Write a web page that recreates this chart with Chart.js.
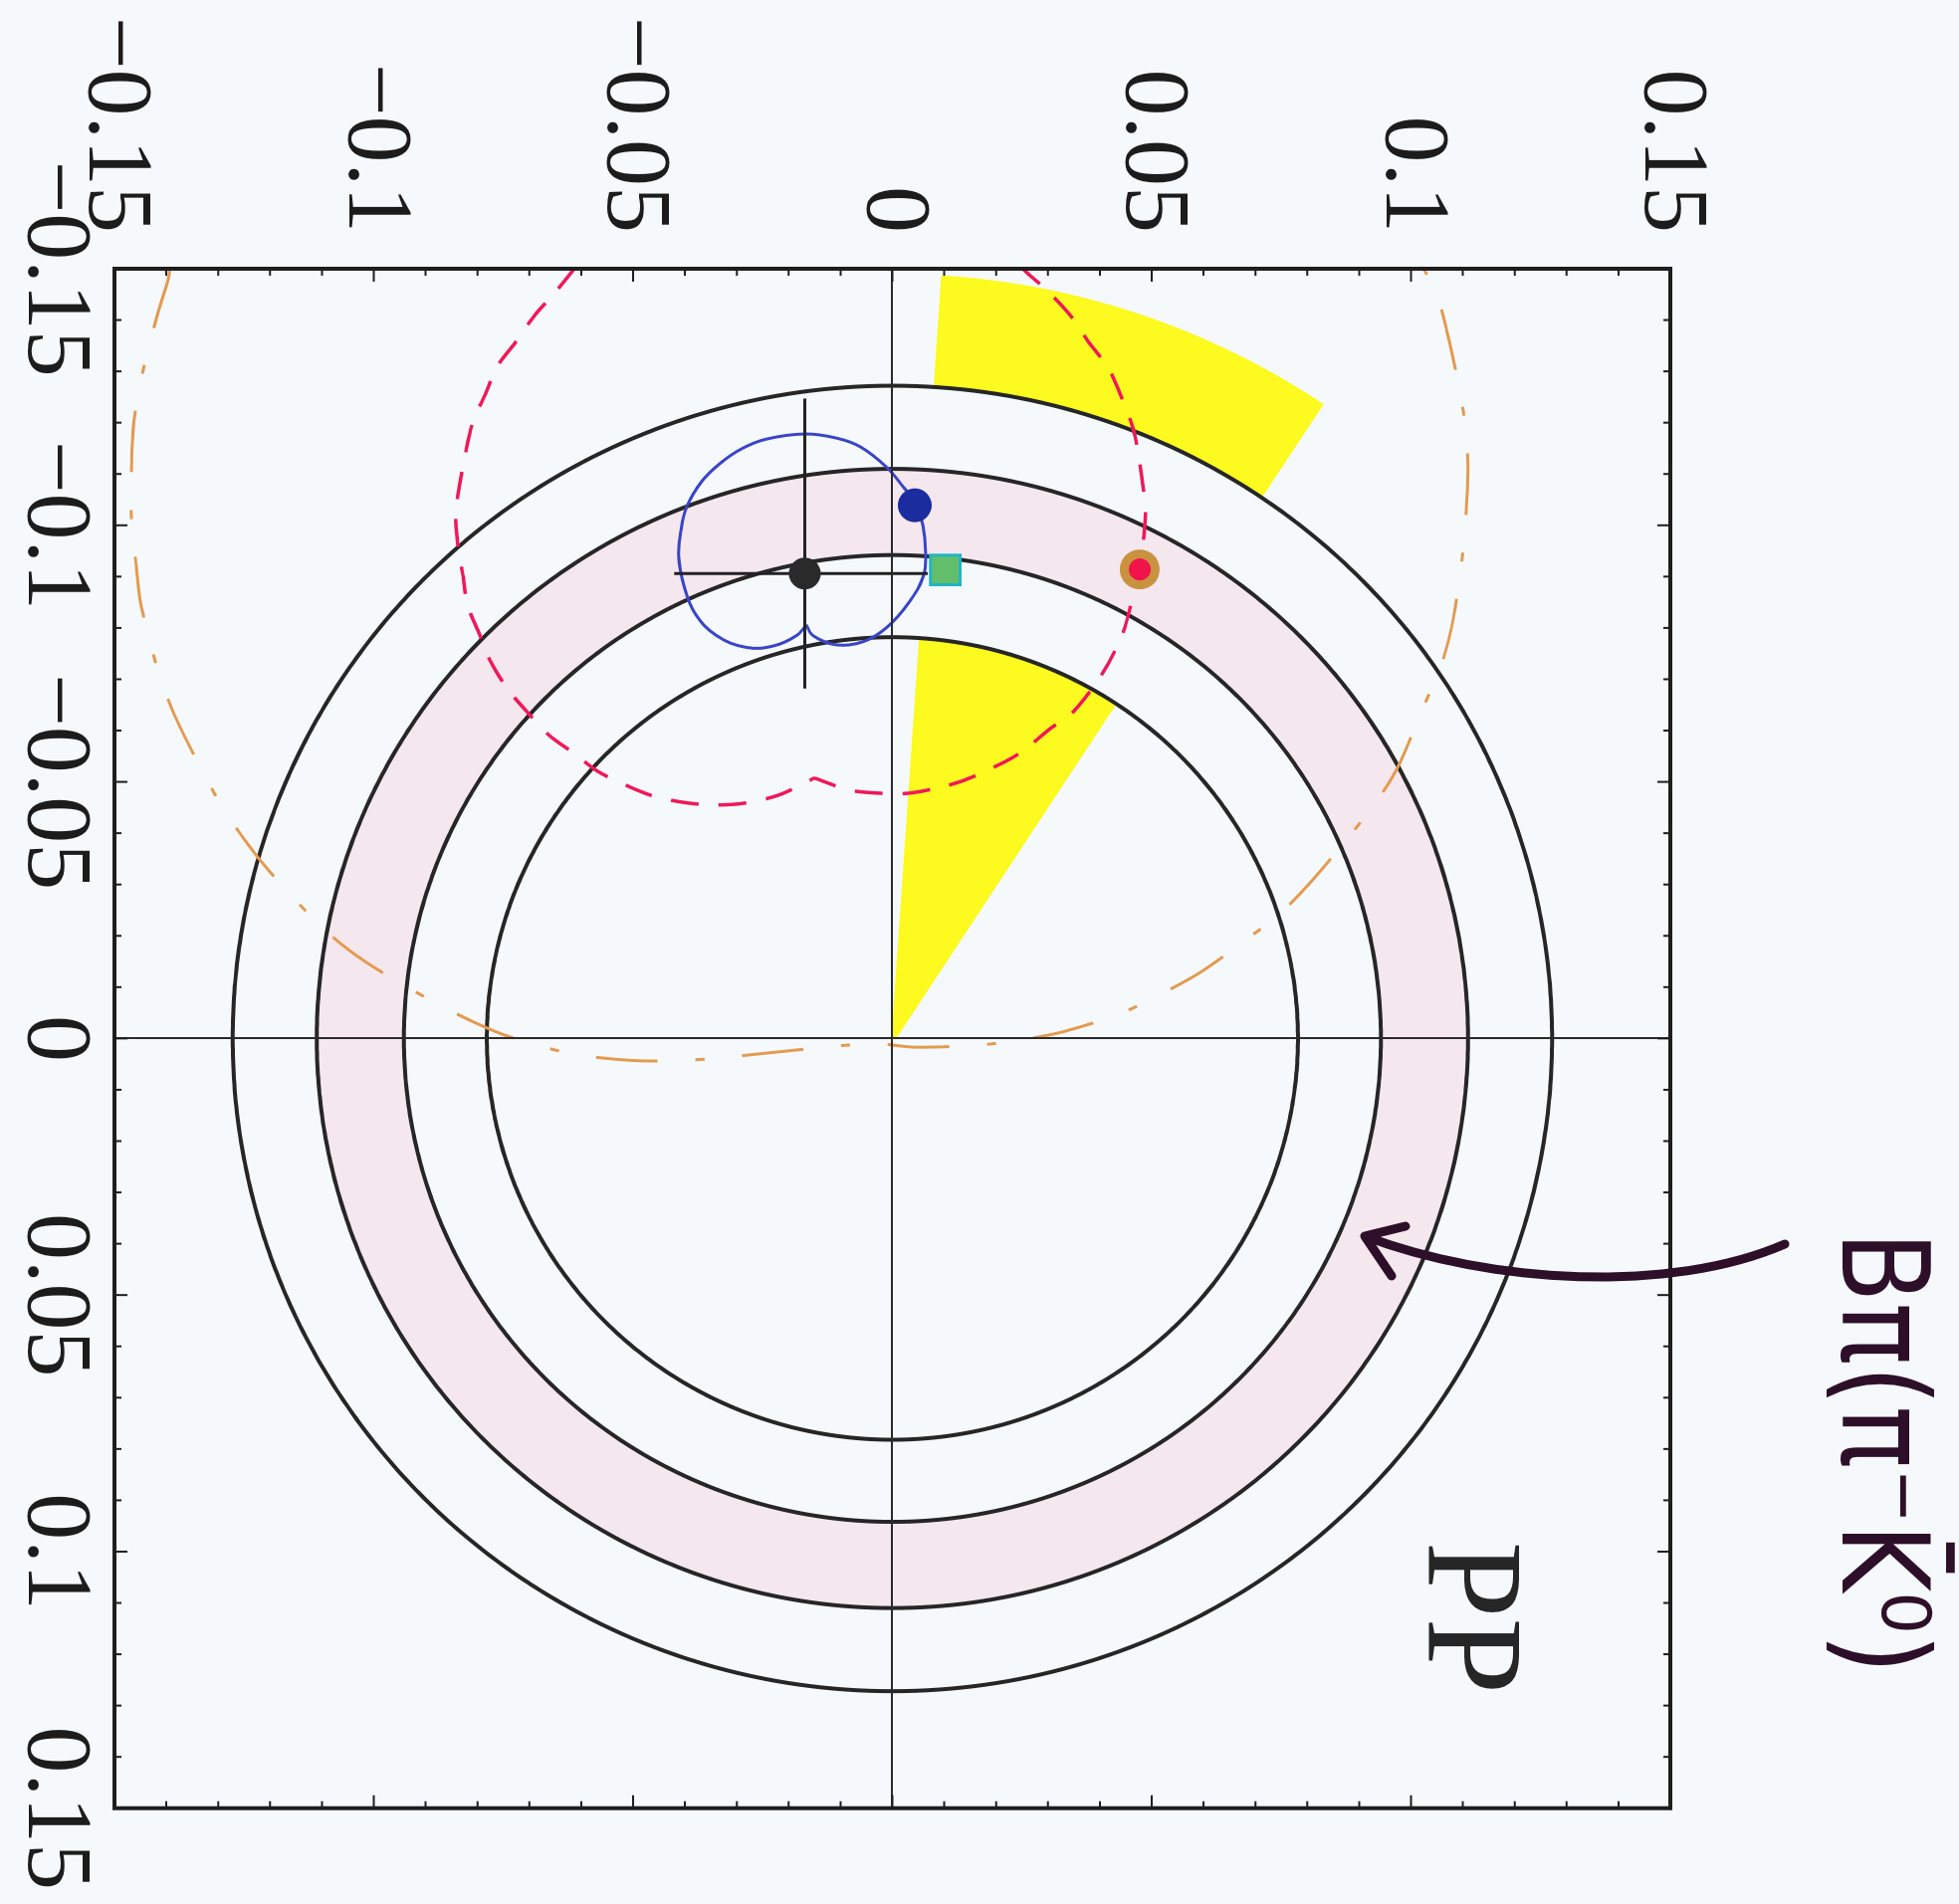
<!DOCTYPE html>
<html>
<head>
<meta charset="utf-8">
<script src="https://cdn.jsdelivr.net/npm/chart.js@4.4.1/dist/chart.umd.min.js"></script>
<style>
  html, body { margin: 0; padding: 0; overflow: hidden; background: #f5f9fc; }
  /* the scanned figure is turned a quarter turn clockwise */
  #turn { position: absolute; left: 0; top: 0; width: 1913px; height: 1968px;
          transform-origin: 0 0; transform: translate(1968px, 0) rotate(90deg); }
</style>
</head>
<body>
<div id="turn"><canvas id="pp" width="1913" height="1968"></canvas></div>
<script>
const tickValues = [-0.15, -0.1, -0.05, 0, 0.05, 0.1, 0.15];
const tickLabels = ['−0.15', '−0.1', '−0.05', '0', '0.05', '0.1', '0.15'];
const minorTicks = Array.from({ length: 31 }, (_, i) => -0.15 + i * 0.01);

// black circles and the shaded band between two of them
const ringRadii = [0.0782, 0.0942, 0.1110, 0.1272];
const bandRadii = [0.0942, 0.1110];
// yellow sectors (degrees, radii)
const wedgeAngles = [146, 176.4];
const wedgeInner = [0, 0.0782];
const wedgeOuter = [0.1272, 0.149];

// curves, [x, y]
const redCurve = [
  [-0.1504,-0.0610],[-0.1452,-0.0652],[-0.1409,-0.0690],[-0.1355,-0.0728],[-0.1311,-0.0761],
  [-0.1253,-0.0786],[-0.1201,-0.0809],[-0.1137,-0.0824],[-0.1082,-0.0834],[-0.1022,-0.0842],
  [-0.0960,-0.0838],[-0.0902,-0.0828],[-0.0844,-0.0819],[-0.0787,-0.0796],[-0.0735,-0.0775],
  [-0.0681,-0.0742],[-0.0636,-0.0704],[-0.0590,-0.0661],[-0.0555,-0.0613],[-0.0521,-0.0569],
  [-0.0494,-0.0515],[-0.0472,-0.0460],[-0.0459,-0.0396],[-0.0455,-0.0339],[-0.0459,-0.0282],
  [-0.0474,-0.0220],[-0.0501,-0.0162],[-0.0507,-0.0151],[-0.0501,-0.0133],[-0.0484,-0.0084],
  [-0.0478,-0.0026],[-0.0478,0.0032],[-0.0492,0.0103],[-0.0509,0.0153],[-0.0553,0.0241],
  [-0.0605,0.0306],[-0.0638,0.0350],[-0.0713,0.0406],[-0.0789,0.0444],[-0.0854,0.0462],
  [-0.0916,0.0477],[-0.1022,0.0488],[-0.1076,0.0483],[-0.1178,0.0467],[-0.1249,0.0442],
  [-0.1307,0.0416],[-0.1359,0.0377],[-0.1404,0.0347],[-0.1456,0.0300],[-0.1490,0.0262],
  [-0.1504,0.0247]
];
const blueCurve = [
  [-0.0806,-0.0166],[-0.0785,-0.0185],[-0.0765,-0.0229],[-0.0762,-0.0281],[-0.0785,-0.0339],
  [-0.0829,-0.0381],[-0.0883,-0.0402],[-0.0941,-0.0412],[-0.0989,-0.0408],[-0.1037,-0.0396],
  [-0.1085,-0.0368],[-0.1120,-0.0333],[-0.1149,-0.0291],[-0.1168,-0.0243],[-0.1178,-0.0168],
  [-0.1170,-0.0108],[-0.1153,-0.0062],[-0.1114,-0.0012],[-0.1076,0.0020],[-0.1041,0.0045],
  [-0.0999,0.0059],[-0.0950,0.0064],[-0.0902,0.0060],[-0.0850,0.0032],[-0.0800,-0.0012],
  [-0.0773,-0.0057],[-0.0767,-0.0108],[-0.0785,-0.0153],[-0.0806,-0.0166]
];
const orangeCurve = [
  [-0.1500,-0.1393],[-0.1481,-0.1396],[-0.1404,-0.1419],[-0.1288,-0.1448],[-0.1207,-0.1462],
  [-0.1120,-0.1467],[-0.1004,-0.1467],[-0.0922,-0.1458],[-0.0841,-0.1448],[-0.0723,-0.1418],
  [-0.0646,-0.1391],[-0.0571,-0.1356],[-0.0468,-0.1302],[-0.0397,-0.1256],[-0.0334,-0.1208],
  [-0.0243,-0.1126],[-0.0185,-0.1064],[-0.0137,-0.0997],[-0.0077,-0.0895],[-0.0039,-0.0822],
  [-0.0006,-0.0746],[0.0027,-0.0632],[0.0039,-0.0550],[0.0044,-0.0465],[0.0040,-0.0354],
  [0.0031,-0.0266],[0.0010,-0.0041],[0.0017,0.0043],[0.0013,0.0164],[0.0004,0.0241],
  [-0.0013,0.0329],[-0.0048,0.0438],[-0.0085,0.0515],[-0.0129,0.0594],[-0.0191,0.0680],
  [-0.0243,0.0747],[-0.0305,0.0807],[-0.0393,0.0880],[-0.0465,0.0936],[-0.0536,0.0978],
  [-0.0642,0.1022],[-0.0721,0.1056],[-0.0800,0.1078],[-0.0908,0.1095],[-0.0995,0.1104],
  [-0.1110,0.1110],[-0.1199,0.1104],[-0.1288,0.1089],[-0.1452,0.1050],[-0.1500,0.1024]
];

// markers
const pointBlack = [-0.0906, -0.0169];
const errX = [-0.1247, -0.0682];
const errY = [-0.0421, 0.0068];
const pointBlue = [-0.1039, 0.0043];
const pointSquare = [-0.0913, 0.0102];
const pointRed = [-0.0914, 0.0477];
const ppLabel = [0.1129, 0.1124];

const toXY = arr => arr.map(p => ({ x: p[0], y: p[1] }));
const arc = (r, a0, a1, n) => {
  const pts = [];
  for (let i = 0; i <= n; i++) {
    const a = (a0 + (a1 - a0) * i / n) * Math.PI / 180;
    pts.push({ x: r * Math.cos(a), y: r * Math.sin(a) });
  }
  return pts;
};
const span = (chart, a, b) => Math.abs(chart.scales.x.getPixelForValue(b) - chart.scales.x.getPixelForValue(a));

const lineBase = { showLine: true, pointRadius: 0, fill: false, clip: 0 };

const datasets = [
  { ...lineBase, data: [{ x: pointBlack[0], y: pointBlack[1] }], showLine: false,
    pointRadius: 16, pointBackgroundColor: '#2a2a2a', pointBorderWidth: 0, order: 1 },
  { ...lineBase, data: [{ x: pointBlue[0], y: pointBlue[1] }], showLine: false,
    pointRadius: 17, pointBackgroundColor: '#1b2c9e', pointBorderWidth: 0, order: 1 },
  { ...lineBase, data: [{ x: pointSquare[0], y: pointSquare[1] }], showLine: false, pointStyle: 'rect',
    pointRadius: 21, pointBackgroundColor: '#63be6c', pointBorderColor: '#1fb5c6', pointBorderWidth: 3, order: 1 },
  { ...lineBase, data: [{ x: pointRed[0], y: pointRed[1] }], showLine: false,
    pointRadius: 11, pointBackgroundColor: '#f2124c', pointBorderWidth: 0, order: 0 },
  { ...lineBase, data: [{ x: pointRed[0], y: pointRed[1] }], showLine: false,
    pointRadius: 20, pointBackgroundColor: '#c9923f', pointBorderWidth: 0, order: 1 },
  { ...lineBase, data: [{ x: errX[0], y: pointBlack[1] }, { x: errX[1], y: pointBlack[1] }],
    borderColor: '#222', borderWidth: 3, order: 2 },
  { ...lineBase, data: [{ x: pointBlack[0], y: errY[0] }, { x: pointBlack[0], y: errY[1] }],
    borderColor: '#222', borderWidth: 3, order: 2 },
  { ...lineBase, data: toXY(blueCurve), borderColor: '#3a44c8', borderWidth: 3, tension: 0.4, order: 3 },
  { ...lineBase, data: toXY(blueCurve), borderColor: '#c42a8c', borderWidth: 1.2, tension: 0.4, order: 3 },
  { ...lineBase, data: toXY(redCurve), borderColor: '#f0185a', borderWidth: 3.5, borderDash: [28, 20],
    tension: 0.3, order: 3 },
  { ...lineBase, data: toXY(orangeCurve), borderColor: '#e49a50', borderWidth: 3, borderDash: [62, 38, 9, 38],
    tension: 0.3, order: 3 },
  ...ringRadii.map(r => ({ ...lineBase, data: arc(r, 0, 362, 360), borderColor: '#262626',
    borderWidth: 4, tension: 0.01, order: 4 })),
  { ...lineBase, data: arc((wedgeInner[0] + wedgeInner[1]) / 2, wedgeAngles[0], wedgeAngles[1], 40),
    borderColor: '#fcfa1e', borderCapStyle: 'butt', tension: 0.01, order: 5,
    borderWidth: c => span(c.chart, wedgeInner[0], wedgeInner[1]) },
  { ...lineBase, data: arc((wedgeOuter[0] + wedgeOuter[1]) / 2, wedgeAngles[0], wedgeAngles[1], 60),
    borderColor: '#fcfa1e', borderCapStyle: 'butt', tension: 0.01, order: 5,
    borderWidth: c => span(c.chart, wedgeOuter[0], wedgeOuter[1]) },
  { ...lineBase, data: arc((bandRadii[0] + bandRadii[1]) / 2, 0, 362, 360),
    borderColor: '#f5e7ee', tension: 0.01, order: 6,
    borderWidth: c => span(c.chart, bandRadii[0], bandRadii[1]) }
];

const zeroGrid = c => (c.tick && Math.abs(c.tick.value) < 1e-9) ? '#2a2a2a' : 'rgba(0,0,0,0)';
const tickFont = { family: '"Liberation Serif", serif', size: 94, lineHeight: 1 };

const decor = {
  id: 'decor',
  afterDraw(chart) {
    const { ctx, chartArea: a, scales: { x, y } } = chart;
    ctx.save();
    ctx.strokeStyle = '#1e1e1e';
    ctx.lineWidth = 2;
    minorTicks.forEach((v, i) => {
      const len = i % 5 === 0 ? 13 : 7;
      const px = x.getPixelForValue(v), py = y.getPixelForValue(v);
      ctx.beginPath();
      ctx.moveTo(px, a.bottom); ctx.lineTo(px, a.bottom - len);
      ctx.moveTo(px, a.top); ctx.lineTo(px, a.top + len);
      ctx.moveTo(a.left, py); ctx.lineTo(a.left + len, py);
      ctx.moveTo(a.right, py); ctx.lineTo(a.right - len, py);
      ctx.stroke();
    });
    ctx.lineWidth = 4;
    ctx.strokeRect(a.left, a.top, a.right - a.left, a.bottom - a.top);

    ctx.fillStyle = '#262626';
    ctx.font = '138px "Liberation Serif"';
    ctx.textAlign = 'center';
    ctx.textBaseline = 'alphabetic';
    ctx.fillText('PP', x.getPixelForValue(ppLabel[0]), y.getPixelForValue(ppLabel[1]) + 46);

    // handwritten note and arrow
    ctx.fillStyle = '#2e0f29';
    ctx.strokeStyle = '#2e0f29';
    ctx.font = '122px "DejaVu Sans"';
    ctx.textAlign = 'left';
    ctx.fillText('Bπ(π⁻K̄⁰)', 1237, 117, 445);
    ctx.lineWidth = 9;
    ctx.lineCap = 'round';
    ctx.beginPath();
    ctx.moveTo(1250, 175);
    ctx.bezierCurveTo(1300, 290, 1290, 470, 1242, 597);
    ctx.moveTo(1242, 597); ctx.lineTo(1282, 570);
    ctx.moveTo(1242, 597); ctx.lineTo(1232, 556);
    ctx.stroke();
    ctx.restore();
  }
};

new Chart(document.getElementById('pp'), {
  type: 'scatter',
  data: { datasets },
  options: {
    responsive: false,
    animation: false,
    devicePixelRatio: 1,
    events: [],
    layout: { padding: { left: 0, top: 290, right: 87, bottom: 0 } },
    plugins: { legend: { display: false }, tooltip: { enabled: false } },
    scales: {
      x: {
        type: 'linear', position: 'bottom', min: -0.15, max: 0.15,
        afterBuildTicks: s => { s.ticks = tickValues.map(v => ({ value: v })); },
        afterFit: s => { s.height = 115; },
        grid: { z: 1, drawTicks: false, lineWidth: 2, color: zeroGrid },
        border: { display: false },
        ticks: { autoSkip: false, maxRotation: 0, padding: 14, color: '#1c1c1c', font: tickFont,
                 callback: (v, i) => tickLabels[i] }
      },
      y: {
        type: 'linear', position: 'left', min: -0.15, max: 0.15,
        afterBuildTicks: s => { s.ticks = tickValues.map(v => ({ value: v })); },
        afterFit: s => { s.width = 270; },
        grid: { z: 1, drawTicks: false, lineWidth: 2, color: zeroGrid },
        border: { display: false },
        ticks: { autoSkip: false, padding: 36, color: '#1c1c1c', font: tickFont,
                 callback: (v, i) => tickLabels[i] }
      }
    }
  },
  plugins: [decor]
});
</script>
</body>
</html>
